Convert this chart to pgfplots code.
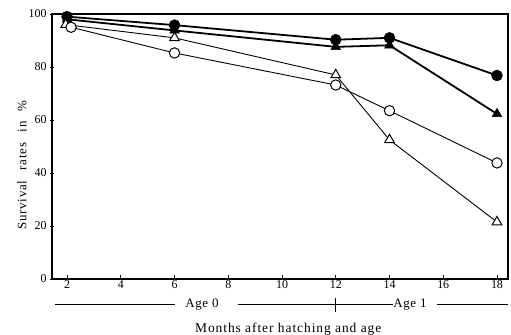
\documentclass[border=0pt]{standalone}
\usepackage{fontspec}
\setmainfont{Liberation Serif}
\usepackage{pgfplots}
\pgfplotsset{compat=1.18}
\begin{document}
\begin{tikzpicture}
\begin{axis}[
  scale only axis,
  width=456bp, height=265bp,
  xmin=1.44, xmax=18.41, ymin=0, ymax=100,
  xtick={2,4,...,18}, ytick={0,20,...,100},
  xtick pos=bottom, ytick pos=left,
  xtick align=inside, ytick align=center,
  major tick length=4bp,
  tick style={line width=0.9pt, black},
  axis line style={line width=1.3pt},
  /pgf/number format/assume math mode=true,
  ticklabel style={font=\fontsize{12}{13}\selectfont},
  xticklabel style={yshift=2pt},
  clip=false,
]
% filled circle
\addplot[black, line width=1.8pt, mark=*, mark size=5.5pt, mark options={solid, fill=black, line width=0.5pt}]
  coordinates {(2,99) (6,95.8) (12,90.3) (14,91) (18,76.8)};
% filled triangle
\addplot[black, line width=1.8pt, mark=triangle*, mark size=5.6pt, mark options={solid, fill=black, line width=0.5pt}]
  coordinates {(2,98) (6,93.8) (12,87.6) (14,88.2) (18,62.3)};
% open triangle
\addplot[black, line width=0.9pt, mark=triangle*, mark size=5.6pt, mark options={solid, fill=white, line width=1pt}]
  coordinates {(1.95,96) (6,91) (12,77) (14,52.5) (18,21.5)};
% open circle
\addplot[black, line width=0.9pt, mark=*, mark size=5.2pt, mark options={solid, fill=white, line width=1pt}]
  coordinates {(2.15,95) (6,85.3) (12,73.2) (14,63.5) (18,43.8)};

% age bar
\draw[line width=1pt] (axis cs:1.55,-9.8) -- (axis cs:6.02,-9.8);
\draw[line width=1pt] (axis cs:8.36,-9.8) -- (axis cs:14.13,-9.8);
\draw[line width=1.3pt] (axis cs:12,-7.2) -- (axis cs:12,-12.4);
\draw[line width=1pt] (axis cs:15.77,-9.8) -- (axis cs:18.41,-9.8);
\node[font=\fontsize{13}{14}\selectfont\addfontfeatures{LetterSpace=5}] at (axis cs:7.02,-9.8) {Age 0};
\node[font=\fontsize{13}{14}\selectfont\addfontfeatures{LetterSpace=5}] at (axis cs:14.76,-9.8) {Age 1};

\node[font=\fontsize{13.5}{15}\selectfont\addfontfeatures{LetterSpace=7}] at (axis description cs:0.518,-0.189) {Months after hatching and age};
\node[rotate=90, font=\fontsize{13}{15}\selectfont\addfontfeatures{LetterSpace=6}] at (axis description cs:-0.066,0.43) {Survival\hspace{0.8em}rates\hspace{0.8em}in\hspace{0.8em}\%};
\end{axis}
\pgfresetboundingbox
\path (-52bp,-56bp) rectangle (459bp,279bp);
\end{tikzpicture}
\end{document}
